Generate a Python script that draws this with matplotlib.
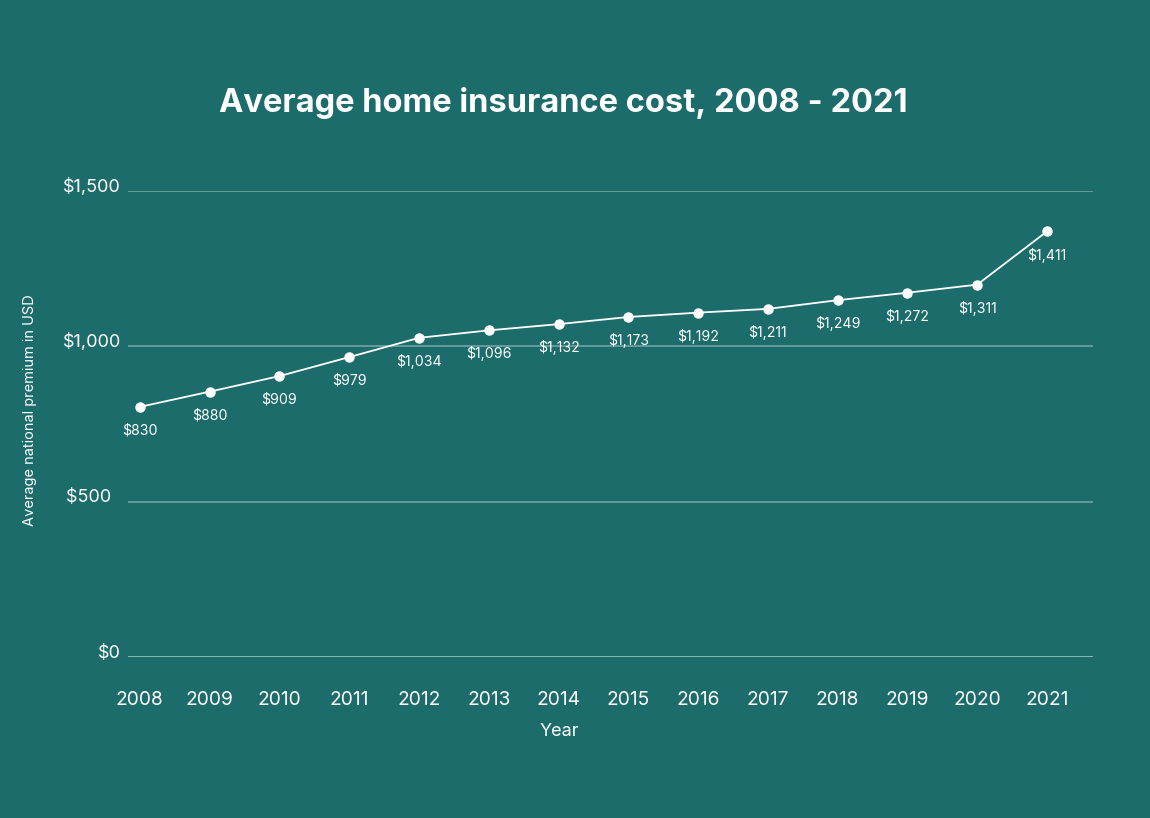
import matplotlib
matplotlib.use("Agg")
import matplotlib.pyplot as plt
import matplotlib.transforms as mtransforms

plt.rcParams['font.family'] = ['Inter', 'DejaVu Sans']

# data
years = [2008, 2009, 2010, 2011, 2012, 2013, 2014, 2015, 2016, 2017, 2018, 2019, 2020, 2021]
# plotted positions (as drawn)
premium = [805, 854, 904, 965, 1027, 1051, 1071, 1094, 1108, 1120, 1148, 1172, 1198, 1369]
# printed labels
labels = ['$830', '$880', '$909', '$979', '$1,034', '$1,096', '$1,132', '$1,173',
          '$1,192', '$1,211', '$1,249', '$1,272', '$1,311', '$1,411']
yticks = [0, 500, 1000, 1500]
ytick_labels = ['$0', '$500  ', '$1,000', '$1,500']

bg = '#1c6c6c'
fg = '#ffffff'

fig = plt.figure(figsize=(11.5, 8.18), dpi=100, facecolor=bg)
ax = fig.add_axes([128/1150, 1-657.3/818, (1093-128)/1150, 466.6/818])
ax.set_facecolor(bg)

ax.plot(years, premium, color=fg, lw=1.3, marker='o', ms=6.5, zorder=3)
for x, y, t in zip(years, premium, labels):
    ax.annotate(t, (x, y), xytext=(0, -17), textcoords='offset points',
                ha='center', va='center', color=fg, fontsize=10.2)

ax.set_xlim(2007.83, 2021.66)
ax.set_ylim(0, 1500)
ax.set_yticks(yticks)
ax.set_yticklabels(ytick_labels)
ax.set_xticks(years)
ax.set_xticklabels([str(y) for y in years])

for v in yticks:
    if v == 0:
        ax.axhline(v, color='#a9cccc', lw=1.1, zorder=1)
    else:
        ax.axhline(v, color='#7aa8a8', lw=1.1, zorder=1)

for s in ax.spines.values():
    s.set_visible(False)
ax.tick_params(axis='both', length=0, colors=fg)
ax.tick_params(axis='x', pad=24, labelsize=13.8)
ax.tick_params(axis='y', pad=5, labelsize=13)
off = mtransforms.ScaledTranslation(0, 6/100, fig.dpi_scale_trans)
for lab in ax.get_yticklabels():
    lab.set_transform(lab.get_transform() + off)

fig.text(563/1150, 1-103/818, 'Average home insurance cost, 2008 - 2021',
         ha='center', va='center', color=fg, fontsize=23.5, fontweight='bold')
fig.text(30/1150, 1-410/818, 'Average national premium in USD', rotation=90,
         ha='center', va='center', color=fg, fontsize=10.5)
fig.text(559/1150, 1-731/818, 'Year', ha='center', va='center', color=fg, fontsize=13)

fig.savefig('out.png', dpi=100, facecolor=bg)
